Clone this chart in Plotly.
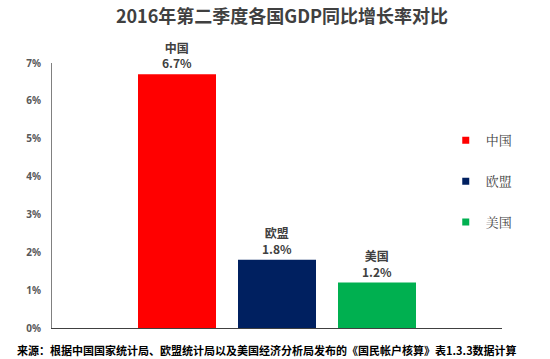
import plotly.graph_objects as go

regions = ["中国", "欧盟", "美国"]
growth = [6.7, 1.8, 1.2]
colors = ["#FF0000", "#002060", "#00B050"]
y_ticks = [0, 1, 2, 3, 4, 5, 6, 7]
y_tick_labels = [f"{v}%" for v in y_ticks]
title_text = "2016年第二季度各国GDP同比增长率对比"
source_text = "来源：根据中国国家统计局、欧盟统计局以及美国经济分析局发布的《国民帐户核算》表1.3.3数据计算"

CJK = "Noto Sans CJK SC"
W, H = 550, 359
ML, MT, PW, PH = 52, 63, 450, 265
MR, MB = W - ML - PW, H - MT - PH

fig = go.Figure()
for name, val, col in zip(regions, growth, colors):
    fig.add_trace(go.Bar(
        x=[""], y=[val], name=name, marker=dict(color=col, line=dict(width=0)),
        text=[f"{name}<br>{val}%"], textposition="outside", cliponaxis=False,
        textfont=dict(family=CJK, size=12, color="#404040", weight="bold"),
        showlegend=False, legendgroup=name,
    ))
    fig.add_trace(go.Scatter(
        x=[None], y=[None], mode="markers", name=name, legendgroup=name,
        marker=dict(symbol="square", size=7, color=col),
    ))

fig.update_layout(
    width=W, height=H,
    margin=dict(l=ML, r=MR, t=MT, b=MB),
    paper_bgcolor="white", plot_bgcolor="white",
    barmode="group", bargap=1/3, bargroupgap=0.22,
    title=dict(text=title_text, x=282 / W, xanchor="center", y=1 - 17 / H, yanchor="middle",
               font=dict(family=CJK, size=18, color="#404040", weight="bold")),
    showlegend=True,
    legend=dict(x=0.875, y=0.765, xanchor="left", yanchor="top",
                font=dict(family="Noto Serif CJK SC, Noto Sans CJK SC", size=13, color="#404040"),
                tracegroupgap=21, itemwidth=30, bgcolor="rgba(0,0,0,0)"),
    yaxis=dict(range=[0, 7], tickvals=y_ticks, ticktext=y_tick_labels, showgrid=False,
               zeroline=False, showline=True, linecolor="#808080", linewidth=1,
               ticks="", ticklabelstandoff=8,
               tickfont=dict(family="Noto Sans", size=10, color="#595959", weight="bold")),
    xaxis=dict(showticklabels=False, showline=True, linecolor="#404040", linewidth=1,
               ticks="", showgrid=False),
    annotations=[dict(text=source_text, x=(15 - ML) / PW, y=-(350 - (MT + PH)) / PH,
                      xref="paper", yref="paper", xanchor="left", yanchor="middle",
                      showarrow=False,
                      font=dict(family=CJK, size=11, color="black", weight="bold"))],
)
fig.write_html("out.html", config={"displayModeBar": False},
               post_script="document.body.style.margin='0';")
